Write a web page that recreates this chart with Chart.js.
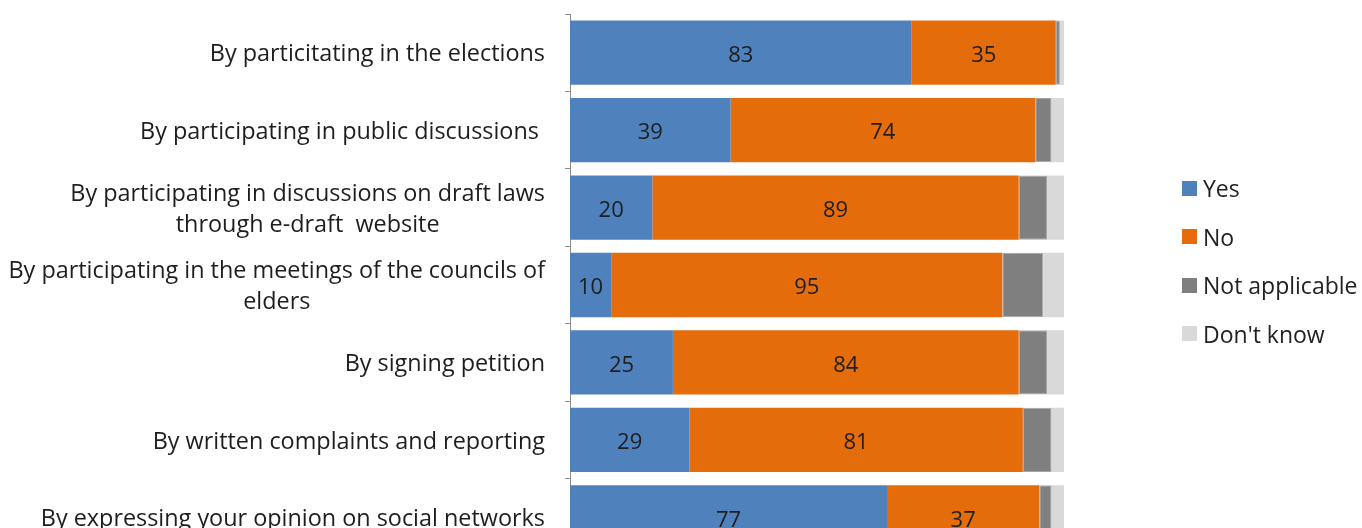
<!DOCTYPE html>
<html>
<head>
<meta charset="utf-8">
<title>Forms of participation</title>
<script src="https://cdn.jsdelivr.net/npm/chart.js@4.4.1/dist/chart.umd.min.js"></script>
<style>
    html, body { margin: 0; padding: 0; background: #fff; overflow: hidden; }
    #wrap { position: relative; width: 1362px; height: 560px; }
    #legend {
        position: absolute; left: 1182px; top: 164px;
        list-style: none; margin: 0; padding: 0;
        font-family: "Open Sans", sans-serif; font-size: 23px; color: #222;
    }
    #legend li { display: flex; align-items: center; height: 48.5px; white-space: nowrap; }
    #legend .box { width: 15px; height: 15px; margin-right: 6px; box-sizing: border-box; }
</style>
</head>
<body>
<div id="wrap">
    <canvas id="chart" width="1362" height="560"></canvas>
    <ul id="legend"></ul>
</div>
<script>
/* ---------- data ---------- */
const categories = [
    'By particitating in the elections',
    'By participating in public discussions ',
    ['By participating in discussions on draft laws', 'through e-draft  website'],
    ['By participating in the meetings of the councils of', 'elders'],
    'By signing petition',
    'By written complaints and reporting',
    'By expressing your opinion on social networks'
];
const seriesNames = ['Yes', 'No', 'Not applicable', "Don't know"];
const yesValues = [83, 39, 20, 10, 25, 29, 77];
const noValues = [35, 74, 89, 95, 84, 81, 37];
const notApplicableValues = [1, 4, 7, 10, 7, 7, 3];
const dontKnowValues = [1, 3, 4, 5, 4, 3, 3];
const axisMax = 120;

/* ---------- style ---------- */
const colors = ['#4f81bd', '#e46c0a', '#7f7f7f', '#d9d9d9'];
const borders = ['#4f81bd', '#e46c0a', '#a5a5a5', '#d9d9d9'];
const fontFamily = '"Open Sans", sans-serif';
const textColor = '#1e1e1e';

/* value labels inside the Yes / No segments */
const valueLabels = {
    id: 'valueLabels',
    afterDatasetsDraw(chart) {
        const ctx = chart.ctx;
        ctx.save();
        ctx.font = '22px ' + fontFamily;
        ctx.fillStyle = textColor;
        ctx.textAlign = 'center';
        ctx.textBaseline = 'middle';
        [0, 1].forEach(di => {
            const meta = chart.getDatasetMeta(di);
            meta.data.forEach((bar, i) => {
                const v = chart.data.datasets[di].data[i];
                ctx.fillText(String(v), (bar.x + bar.base) / 2, bar.y + 3);
            });
        });
        ctx.restore();
    }
};

/* category labels: right aligned block, lines centred within it */
const categoryLabels = {
    id: 'categoryLabels',
    afterDraw(chart) {
        const ctx = chart.ctx;
        const yScale = chart.scales.y;
        const right = chart.chartArea.left - 25;
        const lineHeight = 31;
        ctx.save();
        ctx.font = '23.4px ' + fontFamily;
        ctx.fillStyle = textColor;
        ctx.textAlign = 'center';
        ctx.textBaseline = 'middle';
        categories.forEach((label, i) => {
            const lines = Array.isArray(label) ? label : [label];
            const width = Math.max(...lines.map(l => ctx.measureText(l).width));
            const cx = right - width / 2;
            const y0 = yScale.getPixelForValue(i) + 2 - (lines.length - 1) * lineHeight / 2;
            lines.forEach((l, k) => ctx.fillText(l, cx, y0 + k * lineHeight));
        });
        ctx.restore();
    }
};

const seriesValues = [yesValues, noValues, notApplicableValues, dontKnowValues];

const chart = new Chart(document.getElementById('chart'), {
    type: 'bar',
    data: {
        labels: categories,
        datasets: seriesValues.map((values, i) => ({
            label: seriesNames[i],
            data: values,
            backgroundColor: colors[i],
            borderColor: borders[i],
            borderWidth: i === 2 ? 1 : 0,
            borderSkipped: false,
            barPercentage: 0.83,
            categoryPercentage: 1
        }))
    },
    options: {
        indexAxis: 'y',
        responsive: false,
        animation: false,
        layout: { padding: { top: 14, right: 298, bottom: 4, left: 0 } },
        plugins: {
            legend: { display: false },
            tooltip: { enabled: false }
        },
        scales: {
            x: {
                stacked: true,
                min: 0,
                max: axisMax,
                display: false
            },
            y: {
                stacked: true,
                afterFit(scale) { scale.width = 570; },
                ticks: { display: false },
                grid: {
                    drawOnChartArea: false,
                    tickLength: 5,
                    color: '#8c8c8c'
                },
                border: { color: '#8c8c8c', width: 1 }
            }
        }
    },
    plugins: [valueLabels, categoryLabels]
});

/* legend list */
const legendEl = document.getElementById('legend');
seriesNames.forEach((name, i) => {
    const li = document.createElement('li');
    const box = document.createElement('span');
    box.className = 'box';
    box.style.background = colors[i];
    li.appendChild(box);
    li.appendChild(document.createTextNode(name));
    legendEl.appendChild(li);
});
</script>
</body>
</html>
